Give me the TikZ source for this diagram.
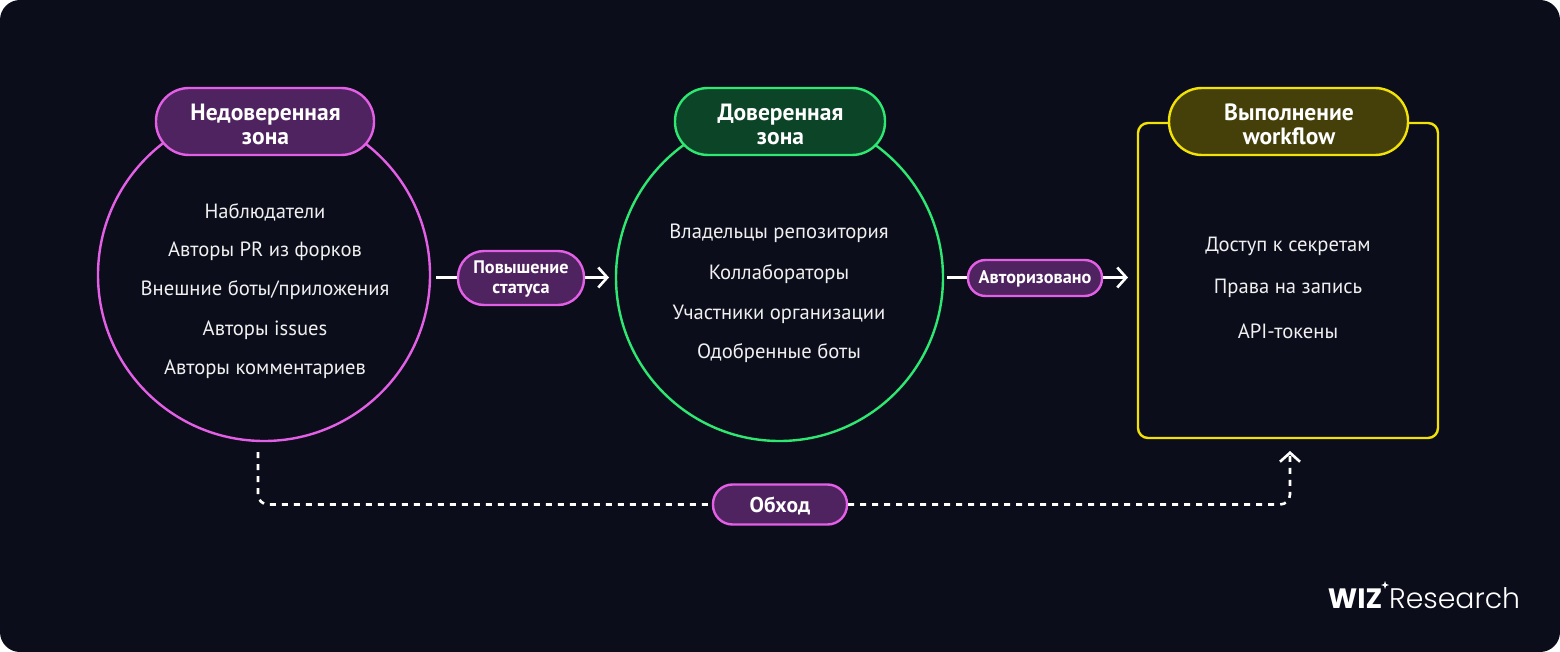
\documentclass[tikz,border=0pt]{standalone}
\usepackage{fontspec}
\setmainfont{PT Sans}
\newfontfamily\logofont{Poppins}
\newfontfamily\logofontlight{Poppins Light}
\usetikzlibrary{arrows.meta}

\definecolor{bgdark}{HTML}{0B0D1A}
\definecolor{pinkline}{HTML}{E35FE6}
\definecolor{pinkfill}{HTML}{4F2360}
\definecolor{greenline}{HTML}{2EE872}
\definecolor{greenfill}{HTML}{0C4427}
\definecolor{yellowline}{HTML}{F2E205}
\definecolor{yellowfill}{HTML}{454009}
\definecolor{itemwhite}{HTML}{F0F0F0}

\tikzset{
  zonebox/.style={draw, line width=2.4pt, rounded corners=33pt, minimum height=67pt, inner sep=0pt},
  zonetitle/.style={align=center, text=white, font=\bfseries\fontsize{23.5}{24}\selectfont, inner sep=0pt},
  itemtext/.style={text=itemwhite, font=\fontsize{20.6}{24}\selectfont, inner sep=0pt},
  statuspill/.style={draw=pinkline, fill=pinkfill, line width=2.4pt, inner sep=0pt},
  pilltext/.style={text=white, align=center, font=\bfseries\fontsize{18.2}{19.5}\selectfont, inner sep=0pt},
  arrowline/.style={draw=white, line width=2.6pt},
  arrowtip/.style={-{Straight Barb[length=9pt, width=20pt, line width=2.6pt]}},
}

\begin{document}
\begin{tikzpicture}[x=1pt, y=-1pt]

% Fond
\fill[white] (0,0) rectangle (1560,652);
\fill[bgdark, rounded corners=20pt] (0,0) rectangle (1560,652);
\useasboundingbox (0,0) rectangle (1560,652);

% Zone non fiable
\node[draw=pinkline, circle, line width=2.4pt, minimum size=332pt, inner sep=0pt] (untrusted) at (264,275) {};
\node[zonebox, draw=pinkline, fill=pinkfill, minimum width=218pt] (untrustedbox) at (265,121.5) {};
\node[zonetitle] (untrustedtitle) at (265.5,124) {Недоверенная\\зона};
\node[itemtext] (u1) at (265,212.5) {Наблюдатели};
\node[itemtext] (u2) at (265,251.5) {Авторы PR из форков};
\node[itemtext] (u3) at (265,290.5) {Внешние боты/приложения};
\node[itemtext] (u4) at (265,330.5) {Авторы issues};
\node[itemtext] (u5) at (265,369.5) {Авторы комментариев};

% Zone fiable
\node[draw=greenline, circle, line width=2.4pt, minimum size=327pt, inner sep=0pt] (trusted) at (779.5,277.5) {};
\node[zonebox, draw=greenline, fill=greenfill, minimum width=210pt] (trustedbox) at (780,121.5) {};
\node[zonetitle] (trustedtitle) at (780.5,124) {Доверенная\\зона};
\node[itemtext] (t1) at (779,233.5) {Владельцы репозитория};
\node[itemtext] (t2) at (779,274.5) {Коллабораторы};
\node[itemtext] (t3) at (779,314.5) {Участники организации};
\node[itemtext] (t4) at (779,353.5) {Одобренные боты};

% Execution
\node[draw=yellowline, line width=2.4pt, rounded corners=10pt, minimum width=300pt, minimum height=315pt, inner sep=0pt] (workflow) at (1288,280.5) {};
\node[zonebox, draw=yellowline, fill=yellowfill, minimum width=239pt] (workflowbox) at (1288.5,121.5) {};
\node[zonetitle] (workflowtitle) at (1289,124) {Выполнение\\workflow};
\node[itemtext] (w1) at (1288,246.5) {Доступ к секретам};
\node[itemtext] (w2) at (1288,288.5) {Права на запись};
\node[itemtext] (w3) at (1288,331.5) {API-токены};

% Passages
\node[statuspill, rounded corners=26pt, minimum width=126pt, minimum height=54pt] (promote) at (521,278) {};
\node[pilltext] (promotetext) at (521,279) {Повышение\\статуса};
\node[statuspill, rounded corners=17.5pt, minimum width=134pt, minimum height=36pt] (authorized) at (1035,278) {};
\node[pilltext] (authorizedtext) at (1035,278.5) {Авторизовано};
\node[statuspill, rounded corners=19.5pt, minimum width=134pt, minimum height=40pt] (bypass) at (780,504.5) {};
\node[pilltext, font=\bfseries\fontsize{21.5}{24}\selectfont] (bypasstext) at (780,505.5) {Обход};

% Extremites libres
\coordinate (promotein) at (436,277.5);
\coordinate (promoteout) at (609,277.5);
\coordinate (authin) at (947,277.5);
\coordinate (authout) at (1128,277.5);
\coordinate (bypassin) at (258,452);
\coordinate (bypassout) at (1290,451);

% Fleches
\draw[arrowline] (promotein) -- (promote.west |- promotein);
\draw[arrowline, arrowtip] (promote.east |- promoteout) -- (promoteout);
\draw[arrowline] (authin) -- (authorized.west |- authin);
\draw[arrowline, arrowtip] (authorized.east |- authout) -- (authout);

% Contournement
\draw[arrowline, dash pattern=on 6pt off 6pt, rounded corners=10pt] (bypassin) |- (bypass.west);
\draw[arrowline, dash pattern=on 6pt off 6pt, rounded corners=10pt, arrowtip] (bypass.east) -| (bypassout);

% Logo
\node[anchor=base east, inner sep=0pt, text=white, font=\logofont\bfseries\fontsize{28}{30}\selectfont] (wiz) at (1382.5,608) {WIZ};
\node[anchor=base west, inner sep=0pt, text=white, font=\logofontlight\fontsize{28.3}{30}\selectfont] (research) at (1389,608) {Research};
\fill[white] (1385,581) -- (1386,584) -- (1389,585) -- (1386,586) -- (1385,589) -- (1384,586) -- (1381,585) -- (1384,584) -- cycle;

\end{tikzpicture}
\end{document}
